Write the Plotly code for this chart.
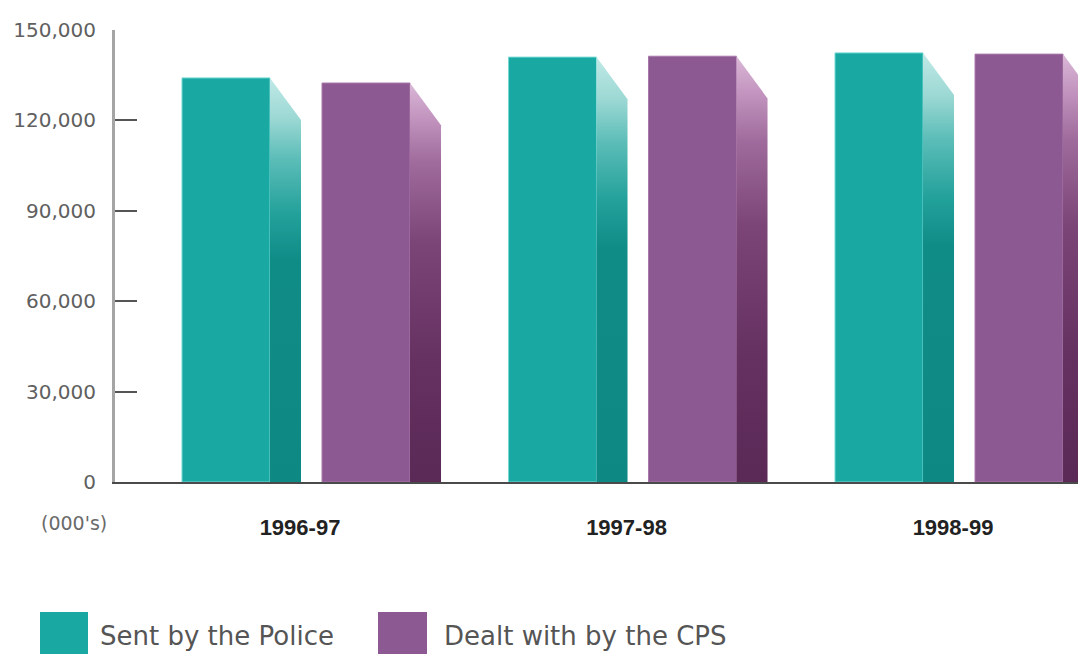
import plotly.graph_objects as go

# ---- data ----
years = ["1996-97", "1997-98", "1998-99"]
sent_by_police = [134100, 141000, 142400]
dealt_with_by_cps = [132400, 141300, 142000]
y_ticks = [0, 30000, 60000, 90000, 120000, 150000]
series_names = ["Sent by the Police", "Dealt with by the CPS"]

# ---- styling / geometry ----
W, H = 1078, 654
ML, MR, MT, MB = 115, 0, 30, 172
PW, PH = W - ML - MR, H - MT - MB

front_colors = ["#1aa8a3", "#8d5993"]
edge_colors = ["#74d9d5", "#a878a9"]
side_scales = [
    [[0, "#0e8883"], [0.55, "#108c87"], [0.66, "#22a09a"], [0.8, "#5cbdb8"],
     [0.9, "#9cd8d4"], [1, "#c0e9e6"]],
    [[0, "#5a2955"], [0.3, "#653161"], [0.6, "#7b4677"], [0.8, "#9f6b9c"],
     [0.92, "#c497c1"], [1, "#dab8d7"]],
]
offsets = [-0.3614, 0.0674]
bar_w = 0.2695
side_w = 0.095
side_drop = 14000
x_range = [-0.5666, 2.3828]


def px_x(p):
    return (p - ML) / PW


def px_y(p):
    return (MT + PH - p) / PH


fig = go.Figure()
series = [sent_by_police, dealt_with_by_cps]
for s, vals in enumerate(series):
    fig.add_trace(go.Bar(
        x=list(range(len(years))), y=vals, offset=offsets[s], width=bar_w,
        marker=dict(color=front_colors[s], line=dict(width=1, color=edge_colors[s])),
        name=series_names[s], showlegend=False,
    ))
    for i, v in enumerate(vals):
        xr = i + offsets[s] + bar_w
        fig.add_trace(go.Scatter(
            x=[xr, xr + side_w, xr + side_w, xr, xr],
            y=[v, v - side_drop, 0, 0, v],
            mode="lines", fill="toself", line=dict(width=0),
            fillgradient=dict(type="vertical", colorscale=side_scales[s]),
            hoverinfo="skip", showlegend=False,
        ))

fig.update_layout(
    width=W, height=H,
    margin=dict(l=ML, r=MR, t=MT, b=MB),
    paper_bgcolor="white", plot_bgcolor="white",
    barmode="overlay",
    font=dict(family="DejaVu Sans", color="#5a5a5a"),
    xaxis=dict(
        range=x_range, tickvals=list(range(len(years))),
        ticktext=["<b>%s</b>" % y for y in years],
        tickfont=dict(family="Liberation Sans", size=22, color="#222222"),
        showgrid=False, zeroline=False, ticks="",
        showline=True, linecolor="#4a4a4a", linewidth=2,
        ticklabelstandoff=25,
    ),
    yaxis=dict(
        range=[0, 150000], tickvals=y_ticks, tickformat=",d",
        tickfont=dict(family="DejaVu Sans", size=20, color="#606060"),
        showgrid=False, zeroline=False,
        showline=True, linecolor="#a5a5a5", linewidth=3,
        ticks="inside", ticklen=22, tickwidth=2, tickcolor="#555555",
        ticklabelstandoff=12,
    ),
)

fig.add_annotation(
    text="(000's)", xref="paper", yref="paper", x=px_x(109), y=px_y(523),
    xanchor="right", yanchor="middle", showarrow=False,
    font=dict(family="DejaVu Sans", size=19, color="#6a6a6a"),
)

legend_boxes = [(40, 88), (378, 427)]
legend_text_x = [98, 442]
for s in range(2):
    x0, x1 = legend_boxes[s]
    fig.add_shape(type="rect", xref="paper", yref="paper",
                  x0=px_x(x0), x1=px_x(x1), y0=px_y(612), y1=px_y(662),
                  fillcolor=front_colors[s], line=dict(width=0), layer="above")
    fig.add_annotation(
        text=series_names[s], xref="paper", yref="paper",
        x=px_x(legend_text_x[s]), y=px_y(636), xanchor="left", yanchor="middle",
        showarrow=False, font=dict(family="DejaVu Sans", size=26, color="#555555"),
    )

fig.write_html("out.html")
